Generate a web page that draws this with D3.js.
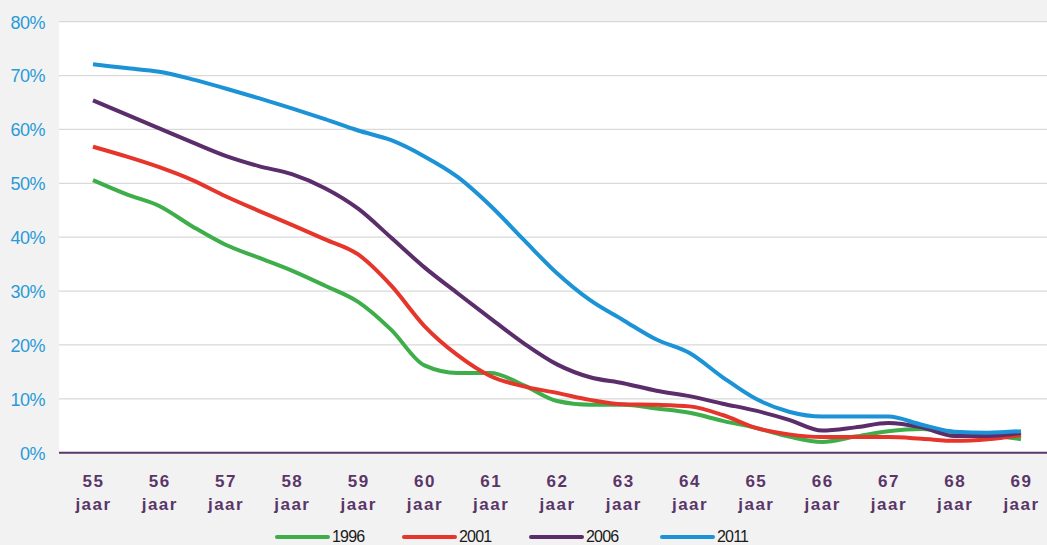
<!DOCTYPE html>
<html>
<head>
<meta charset="utf-8">
<script src="https://cdn.jsdelivr.net/npm/d3@7"></script>
<style>
  body { margin: 0; background: #f2f2f2; }
  svg { display: block; }
</style>
</head>
<body>
<script>
// ages on the x axis (half-year steps for the data points)
var ages = [55, 55.5, 56, 56.5, 57, 57.5, 58, 58.5, 59, 59.5, 60, 60.5, 61, 61.5, 62,
            62.5, 63, 63.5, 64, 64.5, 65, 65.5, 66, 66.5, 67, 67.5, 68, 68.5, 69];
var tickAges = [55, 56, 57, 58, 59, 60, 61, 62, 63, 64, 65, 66, 67, 68, 69];
var yTicks = [0, 10, 20, 30, 40, 50, 60, 70, 80];

var years = ["1996", "2001", "2006", "2011"];
var v1996 = [50.6, 48.0, 45.8, 42.0, 38.6, 36.2, 33.8, 31.0, 28.0, 22.8, 16.2, 14.8, 14.8, 12.5, 9.6,
             8.9, 8.9, 8.2, 7.4, 5.9, 4.6, 3.0, 2.0, 3.0, 4.0, 4.4, 3.8, 3.3, 2.5];
var v2001 = [56.8, 55.0, 53.0, 50.6, 47.6, 44.9, 42.3, 39.6, 36.8, 31.0, 23.5, 18.1, 14.2, 12.3, 11.1,
             9.8, 9.0, 8.9, 8.6, 7.0, 4.6, 3.4, 2.9, 2.9, 2.9, 2.6, 2.2, 2.5, 3.3];
var v2006 = [65.4, 62.8, 60.2, 57.6, 55.1, 53.2, 51.7, 49.1, 45.3, 39.9, 34.4, 29.6, 24.9, 20.3, 16.4,
             14.0, 12.9, 11.5, 10.5, 9.1, 7.8, 6.1, 4.1, 4.7, 5.5, 4.7, 3.1, 3.1, 3.7];
var v2011 = [72.1, 71.4, 70.7, 69.3, 67.6, 65.8, 63.9, 61.9, 59.8, 58.0, 55.0, 51.2, 45.8, 39.5, 33.3,
             28.3, 24.6, 21.0, 18.5, 14.0, 10.0, 7.6, 6.7, 6.7, 6.7, 5.2, 3.9, 3.7, 4.0];
var seriesValues = [v1996, v2001, v2006, v2011];
var colors = ["#3dae4a", "#e6352b", "#5b2d6b", "#1b93d6"];

var W = 1047, H = 545;
var plot = { left: 59, right: 1047, top: 21.7, bottom: 452.7 };

var svg = d3.select("body").append("svg")
  .attr("width", W).attr("height", H);

svg.append("rect").attr("x", 0).attr("y", 0).attr("width", W).attr("height", H)
  .style("fill", "#f2f2f2");

// white plot background
svg.append("rect")
  .attr("x", plot.left).attr("y", plot.top)
  .attr("width", plot.right - plot.left).attr("height", plot.bottom - plot.top)
  .style("fill", "#ffffff");

var x = d3.scaleLinear().domain([55, 69]).range([93, 1021]);
var y = d3.scaleLinear().domain([0, 80]).range([plot.bottom, plot.top]);

// gridlines
svg.append("g").selectAll("line")
  .data(yTicks.filter(function(d) { return d > 0; }))
  .enter().append("line")
  .attr("x1", plot.left).attr("x2", plot.right)
  .attr("y1", function(d) { return y(d); }).attr("y2", function(d) { return y(d); })
  .style("stroke", "#d9d9d9").style("stroke-width", 1.3);

// y axis labels
var yAxis = d3.axisLeft(y).tickValues(yTicks).tickSize(0).tickPadding(0)
  .tickFormat(function(d) { return d + "%"; });
var gy = svg.append("g").attr("transform", "translate(45,0)").call(yAxis);
gy.select(".domain").remove();
gy.selectAll("text")
  .attr("font-family", "'Liberation Sans', Arial, sans-serif")
  .attr("font-size", 18)
  .attr("letter-spacing", "-0.5px")
  .attr("fill", "#2a9ad8")
  .attr("dy", "0.35em");

// lines
var line = d3.line()
  .x(function(d, i) { return x(ages[i]); })
  .y(function(d) { return y(d); })
  .curve(d3.curveMonotoneX);

svg.append("g").selectAll("path")
  .data(seriesValues)
  .enter().append("path")
  .attr("d", line)
  .style("fill", "none")
  .style("stroke", function(d, i) { return colors[i]; })
  .style("stroke-width", 4)
  .style("stroke-linejoin", "round");

// x axis line
svg.append("line")
  .attr("x1", plot.left).attr("x2", plot.right)
  .attr("y1", y(0)).attr("y2", y(0))
  .style("stroke", "#5b3669").style("stroke-width", 2);

// x axis labels
var xAxis = d3.axisBottom(x).tickValues(tickAges).tickSize(0).tickFormat("");
var gx = svg.append("g").attr("transform", "translate(0," + y(0) + ")").call(xAxis);
gx.select(".domain").remove();
gx.selectAll(".tick").each(function(d) {
  var t = d3.select(this);
  t.selectAll("text").remove();
  var txt = t.append("text")
    .attr("text-anchor", "middle")
    .attr("font-family", "'Liberation Sans', Arial, sans-serif")
    .attr("font-weight", "bold")
    .attr("font-size", 17)
    .attr("letter-spacing", "1.5px")
    .attr("fill", "#5a3668");
  txt.append("tspan").attr("x", 0).attr("y", 34).text(d);
  txt.append("tspan").attr("x", 0).attr("y", 57).text("jaar");
});

// legend
var legendX = [277, 404, 531, 662];
var lg = svg.append("g").selectAll("g")
  .data(years)
  .enter().append("g")
  .attr("transform", function(d, i) { return "translate(" + legendX[i] + ",537)"; });
lg.append("line")
  .attr("x1", 0).attr("x2", 51).attr("y1", 0).attr("y2", 0)
  .style("stroke", function(d, i) { return colors[i]; })
  .style("stroke-width", 4)
  .style("stroke-linecap", "round");
lg.append("text")
  .attr("x", 55).attr("y", 5)
  .attr("font-family", "'Liberation Sans', Arial, sans-serif")
  .attr("font-size", 16)
  .attr("letter-spacing", "-0.8px")
  .attr("fill", "#1a1a1a")
  .text(function(d) { return d; });
</script>
</body>
</html>
